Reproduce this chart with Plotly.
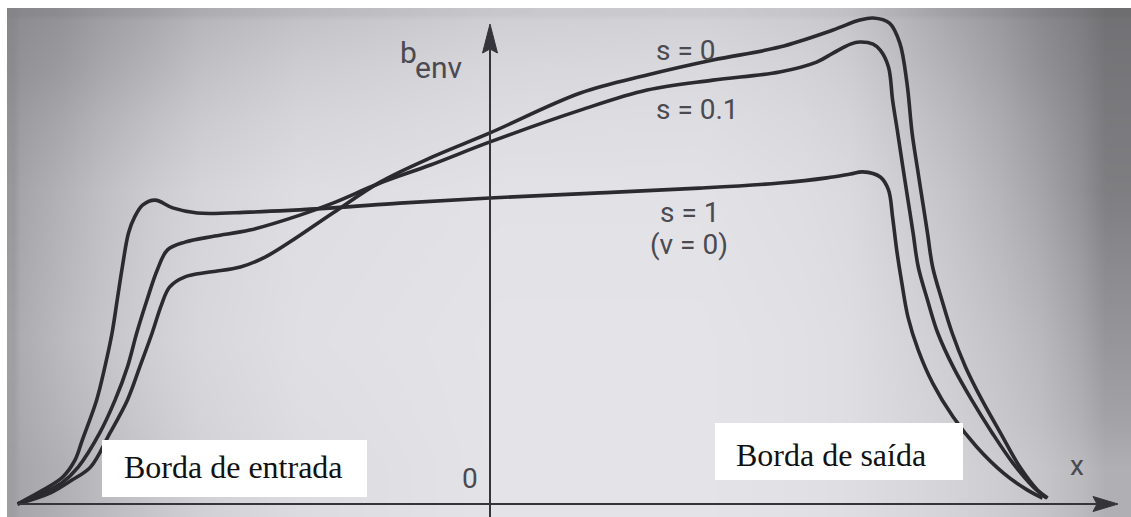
import plotly.graph_objects as go

# ---------------------------------------------------------------------------
# Envelope width b_env along the chord for three values of s
# x: chordwise position (origin on the b_env axis), b: envelope height
# ---------------------------------------------------------------------------
x_s0 = [-0.460, -0.428, -0.407, -0.389, -0.370, -0.353, -0.341, -0.329, -0.320, -0.312,
        -0.297, -0.273, -0.243, -0.219, -0.195, -0.153, -0.107, -0.056, 0.000,
        0.088, 0.153, 0.217, 0.282, 0.334, 0.360, 0.373, 0.389, 0.399, 0.406,
        0.411, 0.416, 0.421, 0.426, 0.431, 0.440, 0.450, 0.463, 0.479, 0.497,
        0.516, 0.533, 0.543]
b_s0 = [0.000, 0.037, 0.080, 0.123, 0.237, 0.347, 0.457, 0.570, 0.663, 0.723,
        0.757, 0.773, 0.790, 0.823, 0.873, 0.970, 1.073, 1.157, 1.237,
        1.370, 1.430, 1.480, 1.523, 1.580, 1.613, 1.620, 1.603, 1.537, 1.403,
        1.237, 1.123, 1.013, 0.903, 0.790, 0.680, 0.570, 0.457, 0.347, 0.237,
        0.123, 0.047, 0.020]

x_s01 = [-0.460, -0.433, -0.417, -0.401, -0.380, -0.365, -0.353, -0.344, -0.334, -0.324,
         -0.314, -0.297, -0.268, -0.234, -0.185, -0.153, -0.107, -0.058, 0.000, 0.088,
         0.153, 0.217, 0.282, 0.318, 0.334, 0.351, 0.360, 0.373, 0.380, 0.388,
         0.392, 0.397, 0.402, 0.407, 0.412, 0.417, 0.426, 0.436, 0.451, 0.469,
         0.489, 0.509, 0.529, 0.542]
b_s01 = [0.000, 0.040, 0.070, 0.123, 0.237, 0.347, 0.457, 0.570, 0.680, 0.780,
         0.847, 0.873, 0.893, 0.913, 0.963, 1.003, 1.070, 1.130, 1.207, 1.313,
         1.380, 1.413, 1.440, 1.473, 1.503, 1.533, 1.540, 1.533, 1.513, 1.457,
         1.347, 1.237, 1.123, 1.013, 0.903, 0.790, 0.680, 0.570, 0.457, 0.347,
         0.237, 0.137, 0.057, 0.020]

x_s1 = [-0.460, -0.435, -0.416, -0.404, -0.397, -0.383, -0.375, -0.368, -0.363, -0.358,
        -0.352, -0.346, -0.338, -0.326, -0.309, -0.285, -0.234, -0.153, -0.088, 0.000,
        0.107, 0.204, 0.282, 0.328, 0.351, 0.363, 0.380, 0.388, 0.392, 0.396,
        0.401, 0.407, 0.417, 0.431, 0.451, 0.474, 0.500, 0.523, 0.538]
b_s1 = [0.000, 0.047, 0.090, 0.147, 0.213, 0.347, 0.457, 0.570, 0.680, 0.790,
        0.903, 0.957, 0.997, 1.013, 0.987, 0.970, 0.973, 0.987, 1.003, 1.020,
        1.037, 1.053, 1.070, 1.087, 1.100, 1.107, 1.090, 1.047, 0.957, 0.847,
        0.737, 0.623, 0.513, 0.403, 0.290, 0.190, 0.103, 0.047, 0.020]

curve_labels = ["s = 0", "s = 0.1", "s = 1", "(v = 0)"]
axis_labels = ["b", "env", "x", "0"]
edge_labels = ["Borda de entrada", "Borda de saída"]

# ---------------------------------------------------------------------------
# Page geometry (pixels) and the mapping between pixels and axis units
# ---------------------------------------------------------------------------
W, H = 1131, 517
OX, OY = 490, 504          # origin of the b_env / x axes on the page
SX, SY = 1027, 300         # pixels per axis unit


def ux(px):
    return (px - OX) / SX


def uy(py):
    return (OY - py) / SY


def paper(px, py):
    return px / W, 1 - py / H


# Scanned-paper shading: a coarse grid of grey levels, smoothly interpolated
bg_x_px = [7, 20, 100, 200, 400, 600, 800, 900, 1000, 1080, 1131]
bg_y_px = [517, 420, 260, 120, 20, 8]
bg_levels = [
    [158, 176, 198, 220, 228, 228, 222, 212, 198, 176],
    [160, 186, 208, 224, 228, 228, 222, 206, 185, 150],
    [152, 178, 204, 222, 226, 226, 218, 196, 165, 126],
    [140, 155, 180, 206, 216, 218, 206, 178, 146, 118],
    [132, 140, 160, 185, 200, 203, 192, 160, 132, 110],
]

fig = go.Figure()

fig.add_trace(go.Heatmap(
    x=[ux(p) for p in bg_x_px],
    y=[uy(p) for p in bg_y_px],
    z=bg_levels,
    zsmooth="best",
    zmin=105, zmax=236,
    colorscale=[[0, "rgb(105,104,107)"], [1, "rgb(236,235,240)"]],
    showscale=False,
    hoverinfo="skip",
))

LINE = "#2a2a2f"
for xs, bs, name in [(x_s0, b_s0, "s = 0"), (x_s01, b_s01, "s = 0.1"), (x_s1, b_s1, "s = 1")]:
    fig.add_trace(go.Scatter(
        x=xs, y=bs, mode="lines", name=name,
        line=dict(color=LINE, width=3.6, shape="spline", smoothing=1.0),
        hoverinfo="skip", showlegend=False,
    ))

AXIS = "#34343a"
shapes = []
# b_env axis (vertical) with arrowhead
y_tip = uy(24)
shapes.append(dict(type="line", xref="x", yref="y", x0=0, x1=0, y0=uy(517), y1=uy(44),
                   line=dict(color=AXIS, width=2)))
hw = 7.5 / SX
shapes.append(dict(type="path", xref="x", yref="y",
                   path=f"M {-hw},{uy(53)} L 0,{y_tip} L {hw},{uy(53)} L 0,{uy(49)} Z",
                   fillcolor=AXIS, line=dict(color=AXIS, width=1)))
# x axis (horizontal) with arrowhead
x_tip = ux(1118)
shapes.append(dict(type="line", xref="x", yref="y", x0=ux(18), x1=ux(1100), y0=0, y1=0,
                   line=dict(color=AXIS, width=2)))
hh = 7.5 / SY
shapes.append(dict(type="path", xref="x", yref="y",
                   path=f"M {ux(1093)},{-hh} L {x_tip},0 L {ux(1093)},{hh} L {ux(1097)},0 Z",
                   fillcolor=AXIS, line=dict(color=AXIS, width=1)))
# white label boxes for the leading / trailing edge captions
shapes.append(dict(type="rect", xref="x", yref="y", x0=ux(102), x1=ux(367), y0=uy(497), y1=uy(440),
                   fillcolor="white", line=dict(width=0), layer="above"))
shapes.append(dict(type="rect", xref="x", yref="y", x0=ux(715), x1=ux(963), y0=uy(480), y1=uy(423),
                   fillcolor="white", line=dict(width=0), layer="above"))

SANS = dict(family="Roboto, Arial, sans-serif", color="#4a4a50")
SERIF = dict(family="Liberation Serif, Times New Roman, serif", color="#111111", size=32)

annotations = []


def label(text, px, py, size, font=SANS, xanchor="center"):
    ax_, ay_ = paper(px, py)
    annotations.append(dict(text=text, x=ax_, y=ay_, xref="paper", yref="paper",
                            xanchor=xanchor, yanchor="middle", showarrow=False,
                            font=dict(font, size=size)))


label(axis_labels[0], 408, 53, 30)
label(axis_labels[1], 439, 67, 30)
label(curve_labels[0], 685, 51, 28)
label(curve_labels[1], 697, 110, 28)
label(curve_labels[2], 689, 212, 28)
label(curve_labels[3], 689, 244, 28)
label(axis_labels[3], 470, 478, 28)
label(axis_labels[2], 1077, 465, 28)
label(edge_labels[0], 122, 467, 32, font=SERIF, xanchor="left")
label(edge_labels[1], 734, 455, 32, font=SERIF, xanchor="left")

fig.update_layout(
    width=W, height=H,
    margin=dict(l=0, r=0, t=0, b=0),
    paper_bgcolor="white",
    plot_bgcolor="white",
    xaxis=dict(range=[ux(0), ux(W)], visible=False, fixedrange=True),
    yaxis=dict(range=[uy(H), uy(0)], visible=False, fixedrange=True),
    shapes=shapes,
    annotations=annotations,
    showlegend=False,
)

fig.write_html("out.html")
